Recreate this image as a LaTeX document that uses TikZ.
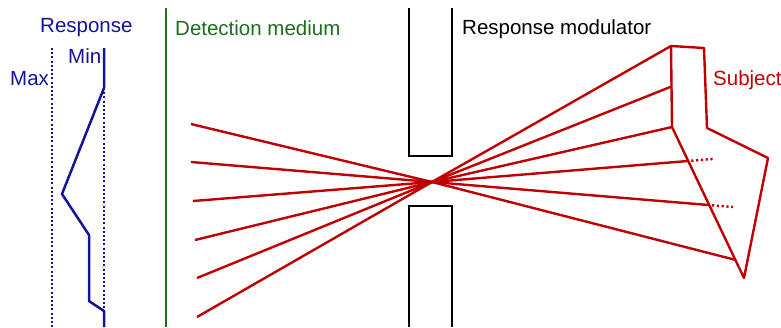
\documentclass[tikz,border=0pt]{standalone}
\usepackage{fontspec}
\setmainfont{Liberation Sans}
\usetikzlibrary{calc}

\definecolor{respblue}{RGB}{20,20,150}
\definecolor{detgreen}{RGB}{30,110,30}
\definecolor{subjred}{RGB}{192,0,0}

\begin{document}
\begin{tikzpicture}[x=1pt, y=-1pt,
				lbl/.style={inner sep=0pt, anchor=base west, font=\fontsize{20.5}{24}\selectfont},
				curve/.style={respblue, line width=2.5pt, line join=round},
				level/.style={respblue, line width=2pt, dash pattern=on 2pt off 2.2pt},
				ray/.style={subjred, line width=2.4pt, line join=round},
				hidden/.style={subjred, line width=2.4pt, dash pattern=on 2.2pt off 2.6pt},
				wall/.style={black, line width=2.2pt}]
				\useasboundingbox (0,0) rectangle (781,327);
				
				\node[lbl, text=respblue] (resp) at (40,32) {Response};
				\node[lbl, text=respblue] (rmin) at (68,63) {Min};
				\node[lbl, text=respblue] (rmax) at (10,85) {Max};
				\node[lbl, text=detgreen] (det) at (175,35) {Detection medium};
				\node[lbl, text=black] (mod) at (462,34) {Response modulator};
				\node[lbl, text=subjred] (subj) at (713,85) {Subject};
				
				\draw[level] (52,48) -- (52,327);
				\draw[level] (104,88) -- (104,327);
				\draw[curve] (104,48) -- (104,88) -- (62,194) -- (89,235) -- (89,301) -- (104,311) -- (104,327);
				
				\draw[detgreen, line width=2.5pt] (166,8) -- (166,327);
				
				\draw[wall] (409,8) -- (409,156) -- (452,156) -- (452,8);
				\draw[wall] (409,327) -- (409,206) -- (452,206) -- (452,327);
				
				\coordinate (pin) at (432,182);
				\coordinate (sa) at (671,46);
				\coordinate (sb) at (704,48);
				\coordinate (sc) at (707,128);
				\coordinate (sd) at (768,158);
				\coordinate (se) at (744,278);
				\coordinate (sf) at (672,127);
				\draw[ray] (sa) -- (sb) -- (sc) -- (sd) -- (se) -- (sf) -- cycle;
				
				\coordinate (s1) at (sa);
				\coordinate (s2) at ($(sa)!0.5!(sf)$);
				\coordinate (s3) at (sf);
				\coordinate (s4) at ($(sf)!0.225!(se)$);
				\coordinate (s5) at ($(sf)!0.517!(se)$);
				\coordinate (s6) at ($(sf)!0.88!(se)$);
				\coordinate (d1) at (197,317);
				\coordinate (d2) at (197,278);
				\coordinate (d3) at (195,240);
				\coordinate (d4) at (193,201);
				\coordinate (d5) at (191,162);
				\coordinate (d6) at (191,124);
				\foreach \i in {1,...,6}
					\draw[ray] (d\i) -- (pin) -- (s\i);
				
				\draw[hidden] ($(pin)!1.012!(s4)$) -- ($(pin)!1.1!(s4)$);
				\draw[hidden] ($(pin)!1.01!(s5)$) -- ($(pin)!1.085!(s5)$);
			\end{tikzpicture}
\end{document}
